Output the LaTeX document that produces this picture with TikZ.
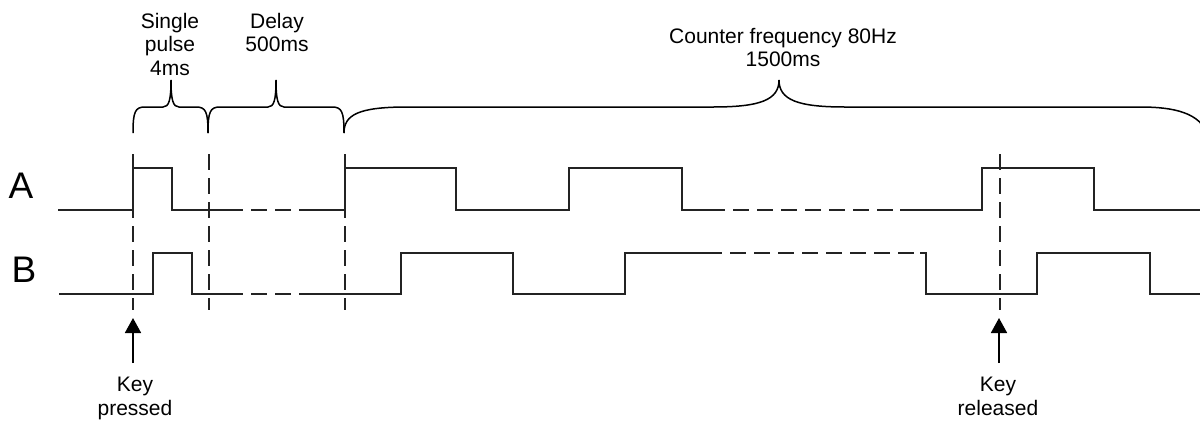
\documentclass[tikz,border=0pt]{standalone}
\usepackage{fontspec}
\setmainfont{Liberation Sans}
\usetikzlibrary{arrows.meta}
\definecolor{sigc}{RGB}{35,35,35}
\begin{document}
\begin{tikzpicture}[x=1pt,y=-1pt,
  sig/.style={line width=1.8pt, draw=sigc, line join=miter},
  dsh/.style={sig, dash pattern=on 16pt off 8pt},
  gapfirst/.style={dash phase=16pt},
  brace/.style={line width=1.5pt, draw=black},
  lbl/.style={font=\fontsize{21}{23.5}\selectfont, align=center, inner sep=0pt, anchor=north},
  big/.style={font=\fontsize{37}{40}\selectfont, inner sep=0pt},
  arr/.style={line width=1.8pt, draw=black, -{Triangle[length=15pt,width=16pt]}}]
\useasboundingbox (0,0) rectangle (1200,421);

% signal labels
\node[big] (A) at (21,186) {A};
\node[big] (B) at (24,270) {B};

% signal A
\draw[sig] (58,210) -- (133,210) -- (133,168) -- (172,168) -- (172,210) -- (243,210);
\draw[dsh,gapfirst] (243,210) -- (300,210);
\draw[sig] (300,210) -- (345,210) -- (345,168) -- (456,168) -- (456,210) -- (569,210) -- (569,168) -- (682,168) -- (682,210) -- (725,210);
\draw[dsh,gapfirst] (725,210) -- (900,210);
\draw[sig] (900,210) -- (982,210) -- (982,168) -- (1094,168) -- (1094,210) -- (1200,210);

% signal B
\draw[sig] (59,294) -- (153,294) -- (153,253) -- (192,253) -- (192,294) -- (243,294);
\draw[dsh,gapfirst] (243,294) -- (300,294);
\draw[sig] (300,294) -- (401,294) -- (401,253) -- (513,253) -- (513,294) -- (625,294) -- (625,253) -- (722,253);
\draw[dsh,gapfirst] (722,253) -- (922,253);
\draw[sig] (920,253) -- (926,253) -- (926,294) -- (1037,294) -- (1037,253) -- (1150,253) -- (1150,294) -- (1200,294);

% vertical dashed markers
\draw[dsh] (133,154) -- (133,310);
\draw[dsh] (209,154) -- (209,310);
\draw[dsh] (345,154) -- (345,310);
\draw[dsh] (1000,154) -- (1000,310);

% braces
\draw[brace] (133,133) .. controls (133,112) and (135,107) .. (145,107) -- (163,107)
  .. controls (169,107) and (171,100) .. (171,80)
  .. controls (171,100) and (173,107) .. (179,107) -- (196,107)
  .. controls (206,107) and (208,112) .. (208,133);
\draw[brace] (208,133) .. controls (208,112) and (210,107) .. (220,107) -- (268,107)
  .. controls (274,107) and (276,100) .. (276,80)
  .. controls (276,100) and (278,107) .. (284,107) -- (332,107)
  .. controls (342,107) and (344,112) .. (344,133);
\draw[brace] (344,133) .. controls (344,115) and (358,107) .. (407,107) -- (713,107)
  .. controls (760,107) and (779,100) .. (779,80)
  .. controls (779,100) and (798,107) .. (845,107) -- (1140,107)
  .. controls (1175,107) and (1200,113) .. (1208,135);

% brace labels
\node[lbl] (pulse) at (170,13) {Single\\pulse\\4ms};
\node[lbl] (delay) at (277,13) {Delay\\500ms};
\node[lbl] (count) at (783,28) {Counter frequency 80Hz\\1500ms};

% key labels and arrows
\node[lbl] (kp) at (135,377) {Key\\pressed};
\node[lbl] (kr) at (998,377) {Key\\released};
\coordinate (kptail) at (133,363);
\coordinate (kptip) at (133,318);
\coordinate (krtail) at (999,363);
\coordinate (krtip) at (999,318);
\draw[arr] (kptail) -- (kptip);
\draw[arr] (krtail) -- (krtip);
\end{tikzpicture}
\end{document}
